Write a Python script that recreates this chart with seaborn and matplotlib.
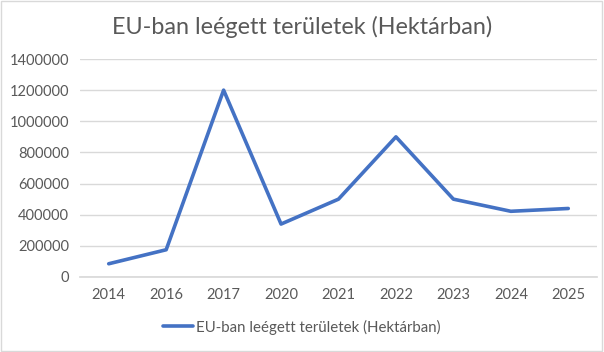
import matplotlib
matplotlib.use("Agg")
import matplotlib.pyplot as plt
import seaborn as sns
import pandas as pd

years = ["2014", "2016", "2017", "2020", "2021", "2022", "2023", "2024", "2025"]
values = [85000, 175000, 1200000, 340000, 500000, 900000, 500000, 422000, 440000]
series_name = "EU-ban leégett területek (Hektárban)"
title = "EU-ban leégett területek (Hektárban)"

df = pd.DataFrame({"Év": years, "Érték": values, "Sorozat": series_name})

sns.set_theme(style="white")
plt.rcParams["font.family"] = ["Lato", "DejaVu Sans"]
txt = "#595959"

fig = plt.figure(figsize=(6.04, 3.52), dpi=100)
ax = fig.add_axes([80/604, 1-277/352, 517/604, (277-59)/352])
sns.lineplot(data=df, x="Év", y="Érték", hue="Sorozat", palette=["#4472C4"],
             linewidth=2.6, ax=ax, sort=False)
ax.set_ylim(0, 1400000)
ax.set_yticks(range(0, 1400001, 200000))
ax.set_yticklabels([str(v) for v in range(0, 1400001, 200000)])
ax.set_xlim(-0.5, len(years)-0.5)
ax.grid(axis="y", color="#D9D9D9", linewidth=1)
ax.set_axisbelow(True)
for s in ["top", "right", "left"]:
    ax.spines[s].set_visible(False)
ax.spines["bottom"].set_color("#D9D9D9")
ax.tick_params(axis="both", colors=txt, labelsize=10.5, length=0, pad=8)
ax.set_xlabel("")
ax.set_ylabel("")
handles, labels = ax.get_legend_handles_labels()
ax.get_legend().remove()
leg = fig.legend(handles, labels, loc="center", bbox_to_anchor=(0.5, 1-327/352),
                 frameon=False, fontsize=10.8, handlelength=2.0, handletextpad=0.2)
for t in leg.get_texts():
    t.set_color(txt)
fig.text(0.5, 1-27/352, title, ha="center", va="center", fontsize=16.8, color=txt)
border = plt.Rectangle((0.002, 0.003), 0.995, 0.994, transform=fig.transFigure,
                       fill=False, edgecolor="#D9D9D9", linewidth=1)
fig.patches.append(border)
fig.savefig("out.png", dpi=100)
